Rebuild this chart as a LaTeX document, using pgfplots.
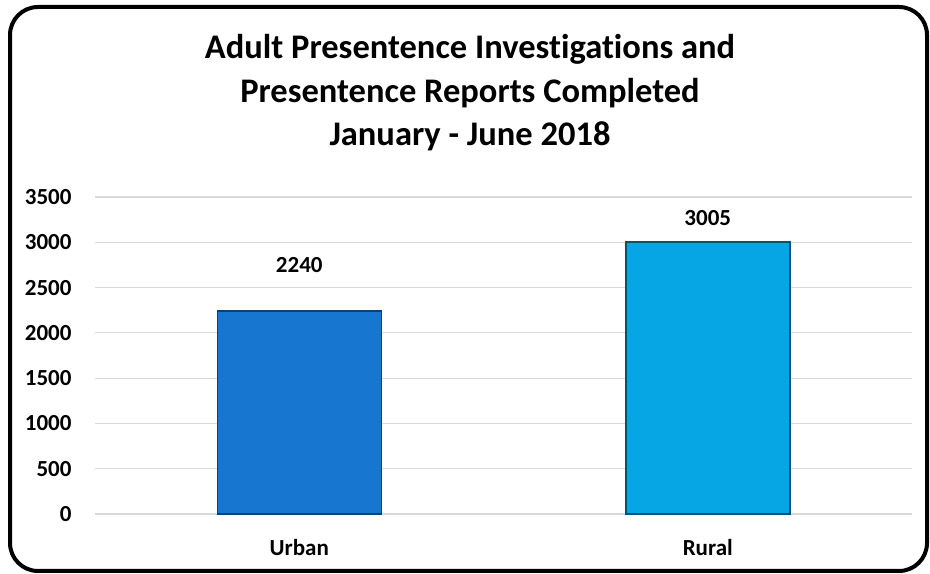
\documentclass[border=0pt]{standalone}
\usepackage{fontspec}
\setmainfont{Carlito}[Ligatures=NoCommon]
\usepackage{pgfplots}
\pgfplotsset{compat=1.18}
\definecolor{urbanblue}{RGB}{22,118,208}
\definecolor{ruralblue}{RGB}{6,166,228}
\definecolor{gridgray}{RGB}{217,217,217}
\begin{document}
\begin{tikzpicture}
\path[use as bounding box] (0,0) rectangle (930bp,574bp);
\draw[line width=4bp, rounded corners=28bp] (10bp,3bp) rectangle (927bp,567bp);
\node[align=center, font=\fontsize{34.5bp}{43.5bp}\selectfont\bfseries] at (470bp,481bp)
  {Adult Presentence Investigations and\\Presentence Reports Completed\\January - June 2018};
\begin{axis}[
  at={(95bp,60bp)}, anchor=south west,
  scale only axis, width=817bp, height=317bp,
  xmin=-0.5, xmax=1.5, ymin=0, ymax=3500,
  axis line style={draw=none},
  major tick length=0pt,
  ytick={0,500,...,3500},
  xtick={0,1}, xticklabels={Urban,Rural},
  ymajorgrids, grid style={gridgray, line width=1.2bp},
  /pgf/number format/assume math mode=true,
  /pgf/number format/1000 sep={},
  ticklabel style={font=\fontsize{23bp}{27bp}\selectfont\bfseries},
  yticklabel style={anchor=east, xshift=-20bp},
  xticklabel style={anchor=center, yshift=-34bp},
  ybar, bar width=164bp, bar shift=0pt,
  clip=false,
]
\addplot[fill=urbanblue, draw=urbanblue!55!black, line width=1.5bp] coordinates {(0,2240)};
\addplot[fill=ruralblue, draw=ruralblue!50!black, line width=1.5bp] coordinates {(1,3005)};
\node[font=\fontsize{23bp}{27bp}\selectfont\bfseries] at (axis cs:0,2748) {2240};
\node[font=\fontsize{23bp}{27bp}\selectfont\bfseries] at (axis cs:1,3267) {3005};
\end{axis}
\end{tikzpicture}
\end{document}
